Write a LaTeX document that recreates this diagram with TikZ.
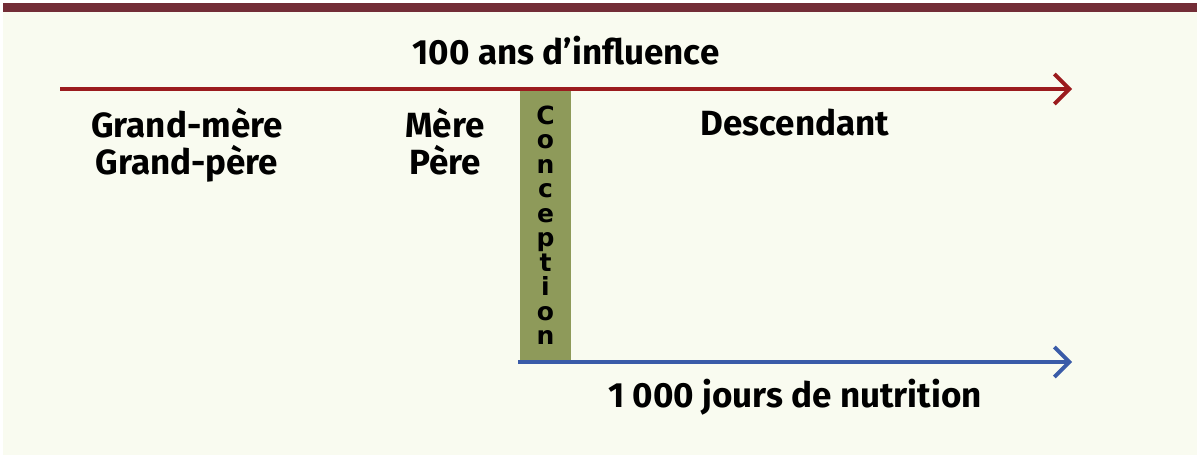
\documentclass[tikz,border=0pt]{standalone}
\usepackage{fontspec}
\setmainfont{Fira Sans}
\newfontfamily\stackfont{DejaVu Sans Bold}
\usetikzlibrary{arrows.meta}
\definecolor{barmaroon}{HTML}{732D37}
\definecolor{papercream}{HTML}{F9FBF0}
\definecolor{influencered}{HTML}{9B1B1E}
\definecolor{nutritionblue}{HTML}{3A5BA8}
\definecolor{conceptgreen}{HTML}{8E9A5A}
\begin{document}
\begin{tikzpicture}[x=1pt,y=-1pt,
    label/.style={font=\fontsize{35}{37}\selectfont\bfseries,align=center,inner sep=0pt,anchor=base},
    timeline/.style={line width=3.8pt,-{Straight Barb[length=15pt,width=30pt,line width=3.8pt]}},
    conception/.style={fill=conceptgreen,minimum width=51pt,minimum height=270pt,inner sep=0pt,
        align=center,font=\stackfont\fontsize{25}{24.5}\selectfont}]
    % page
    \fill[white] (0,0) rectangle (1200,460);
    \fill[papercream] (3,12) rectangle (1197,455);
    \fill[barmaroon] (3,3) rectangle (1197,12);

    % conception bar
    \node[conception] (conception) at (545.5,225) {C\\o\\n\\c\\e\\p\\t\\i\\o\\n};

    % timelines
    \coordinate (influence start) at (60,89);
    \coordinate (influence end) at (1072,89);
    \coordinate (nutrition start) at (518,362);
    \coordinate (nutrition end) at (1072,362);
    \draw[timeline,influencered] (influence start) -- (influence end);
    \draw[timeline,nutritionblue] (nutrition start) -- (nutrition end);

    % labels
    \node[label] (influence) at (566,65) {100 ans d’influence};
    \node[label] (grandparents) at (187,174) {Grand-mère\\Grand-père};
    \node[label] (parents) at (445,174) {Mère\\Père};
    \node[label] (descendant) at (795,135) {Descendant};
    \node[label] (nutrition) at (795,407) {1 000 jours de nutrition};
\end{tikzpicture}
\end{document}
